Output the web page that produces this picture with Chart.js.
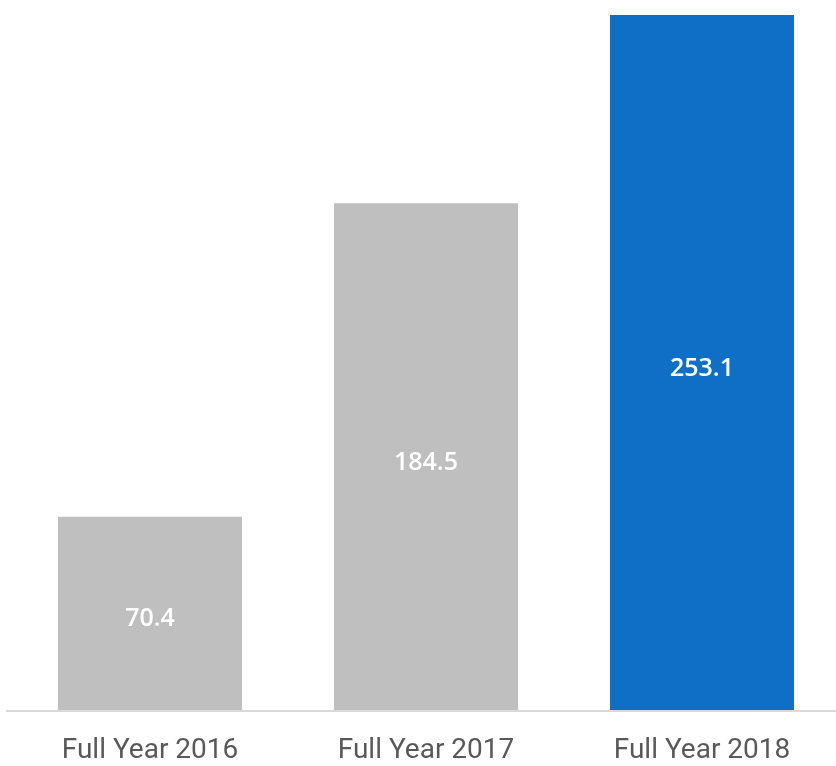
<!DOCTYPE html>
<html>
<head>
<meta charset="utf-8">
<script src="https://cdn.jsdelivr.net/npm/chart.js@4"></script>
<style>
html,body{margin:0;padding:0;background:#fff;overflow:hidden;}
#wrap{width:840px;height:766px;}
</style>
</head>
<body>
<div id="wrap"><canvas id="c" width="840" height="766"></canvas></div>
<script>
const categories = ["Full Year 2016", "Full Year 2017", "Full Year 2018"];
const values = [70.4, 184.5, 253.1];
const barColors = ["#bfbfbf", "#bfbfbf", "#0f6fc6"];
const yMax = 253.1;

const labelPlugin = {
  id: 'valueLabels',
  afterDatasetsDraw(chart) {
    const ctx = chart.ctx;
    const meta = chart.getDatasetMeta(0);
    ctx.save();
    ctx.fillStyle = '#ffffff';
    ctx.font = '600 25px "Open Sans", sans-serif';
    ctx.textAlign = 'center';
    ctx.textBaseline = 'middle';
    meta.data.forEach((bar, i) => {
      const cy = (bar.y + bar.base) / 2 + 6;
      ctx.fillText(values[i].toFixed(1), bar.x, cy);
    });
    ctx.restore();
  }
};
const baselinePlugin = {
  id: 'baseline',
  afterDatasetsDraw(chart) {
    const ctx = chart.ctx;
    const y = chart.scales.y.getPixelForValue(0);
    ctx.save();
    ctx.strokeStyle = '#d9d9d9';
    ctx.lineWidth = 2;
    ctx.beginPath();
    ctx.moveTo(6, y + 1);
    ctx.lineTo(840, y + 1);
    ctx.stroke();
    ctx.restore();
  }
};

new Chart(document.getElementById('c'), {
  type: 'bar',
  data: {
    labels: categories,
    datasets: [{
      data: values,
      backgroundColor: barColors,
      borderWidth: 0,
      categoryPercentage: 1.0,
      barPercentage: 0.667
    }]
  },
  options: {
    responsive: false,
    animation: false,
    layout: { padding: { left: 12, right: 0, top: 15, bottom: 0 } },
    plugins: { legend: { display: false }, tooltip: { enabled: false } },
    scales: {
      x: {
        grid: { display: false, drawTicks: false },
        border: { display: false },
        ticks: {
          color: '#595959',
          font: { family: 'Roboto, "Open Sans", sans-serif', size: 28, weight: '400' },
          padding: 24,
          maxRotation: 0
        },
        afterFit(scale) { scale.height = 56; }
      },
      y: {
        display: false,
        min: 0,
        max: yMax
      }
    }
  },
  plugins: [labelPlugin, baselinePlugin]
});
</script>
</body>
</html>
